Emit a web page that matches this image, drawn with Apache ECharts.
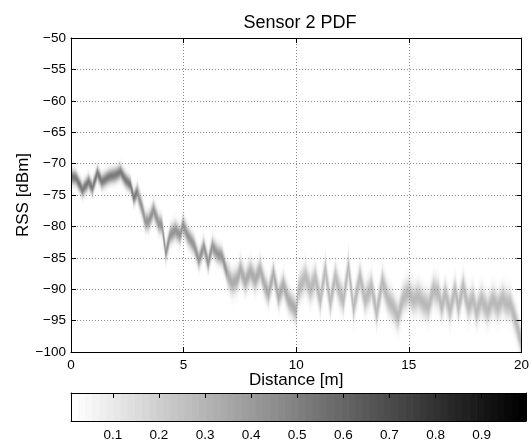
<!DOCTYPE html>
<html><head><meta charset="utf-8">
<script src="https://cdn.jsdelivr.net/npm/echarts@6/dist/echarts.min.js"></script>
<style>html,body{margin:0;padding:0;background:#fff}#c{width:532px;height:446px}</style>
</head><body><div id="c"></div>
<script>
// Distance [m] of the vertices of the PDF ridge
const distance = [0, 0.22, 0.51, 0.78, 0.95, 1.17, 1.37, 1.68, 1.98, 2.2, 2.42, 2.64, 2.79, 2.94, 3.16, 3.3, 3.45, 3.67, 3.89, 4.04, 4.21, 4.4, 4.63, 4.85, 4.97,
  5.17, 5.46, 5.68, 5.9, 6.09, 6.27, 6.49, 6.71, 6.93, 7.15, 7.37, 7.52, 7.74, 7.96, 8.18, 8.4, 8.62, 8.77, 8.99, 9.21, 9.43, 9.65, 9.87, 10.0,
  10.1, 10.4, 10.63, 10.85, 11.07, 11.29, 11.51, 11.73, 11.95, 12.1, 12.32, 12.54, 12.83, 13.05, 13.35, 13.57, 13.82, 14.08, 14.3, 14.52, 14.74, 14.98,
  15.2, 15.43, 15.65, 15.87, 16.09, 16.31, 16.46, 16.61, 16.83, 17.05, 17.2, 17.41, 17.63, 17.85, 18.0, 18.22, 18.5, 18.73, 18.95, 19.17, 19.3, 19.52, 19.74, 20.0];
// Most likely RSS [dBm] at each vertex
const rssMean = [-72.1, -72.3, -74.2, -72.9, -73.9, -71.5, -72.9, -72.1, -71.8, -71.3, -72.6, -73.4, -75.5, -74.5, -77.1, -79.2, -79.2, -77.4, -79.5, -79.8, -84.3, -81.4, -80.6, -81.4, -79.7,
  -81.4, -83.0, -85.4, -83.2, -85.9, -83.2, -84.3, -84.8, -87.5, -89.1, -88.5, -86.9, -88.8, -87.2, -88.5, -86.9, -89.6, -90.7, -87.5, -91.2, -89.3, -91.7, -92.8, -93.5,
  -90.1, -88.0, -90.0, -88.3, -91.7, -86.9, -92.2, -88.0, -90.7, -91.7, -86.4, -93.0, -88.0, -91.7, -89.6, -93.8, -88.8, -91.7, -92.8, -94.4, -91.5, -90.5,
  -91.7, -91.2, -92.2, -92.8, -90.1, -90.7, -92.8, -90.7, -93.4, -90.1, -92.8, -89.6, -92.8, -91.5, -93.6, -91.7, -93.4, -91.7, -92.8, -91.5, -92.2, -92.5, -95.0, -98.6];
// Spread (std. dev., dB) of the PDF by distance zone: [from, to, sigma]
const spreadZones = [[0, 3, 0.76], [3, 7, 0.95], [7, 10, 1.22], [10, 20.01, 1.45]];
const xTicksInterval = 5;
const yTicksInterval = 5;
const colorbarTicks = [0.1, 0.2, 0.3, 0.4, 0.5, 0.6, 0.7, 0.8, 0.9];
const colorbarRange = [0.0092, 0.9963];
const colorLevels = 64;

const FONT = 'Liberation Sans, Arial, Helvetica, sans-serif';
function sigmaAt(d) {
  for (const z of spreadZones) if (d >= z[0] && d < z[1]) return z[2];
  return spreadZones[spreadZones.length - 1][2];
}
const segData = [];
for (let i = 0; i < distance.length - 1; i++) {
  segData.push([distance[i], rssMean[i], distance[i + 1], rssMean[i + 1], sigmaAt((distance[i] + distance[i + 1]) / 2)]);
}
const cbData = [];
for (let k = 0; k < colorLevels; k++) {
  const w = (colorbarRange[1] - colorbarRange[0]) / colorLevels;
  cbData.push([colorbarRange[0] + k * w, colorbarRange[0] + (k + 1) * w, 1 - k / (colorLevels - 1)]);
}

function bandItem(params, api) {
  const p0 = api.coord([api.value(0), api.value(1)]);
  const p1 = api.coord([api.value(2), api.value(3)]);
  const s = api.value(4);
  const pxPerDb = api.size([0, 1])[1];
  const H = 4 * s * pxPerDb;
  const dx = p1[0] - p0[0], dy = p1[1] - p0[1];
  const len = Math.hypot(dx, dy);
  const ux = dx / len, uy = dy / len;
  const nx = -uy, ny = ux;
  const mx = (p0[0] + p1[0]) / 2, my = (p0[1] + p1[1]) / 2;
  const t = H * ux;
  const ext = 0.7, slope = dy / dx;
  const stops = [];
  const N = 48;
  for (let k = 0; k <= N; k++) {
    const z = -4 + 8 * k / N;
    let v = Math.exp(-z * z / 2) / (s * Math.sqrt(2 * Math.PI));
    v = Math.min(1, v);
    const g = Math.round(255 * (1 - v));
    stops.push({ offset: k / N, color: 'rgb(' + g + ',' + g + ',' + g + ')' });
  }
  return {
    type: 'polygon',
    shape: { points: [[p0[0], p0[1] - H], [p1[0] + ext, p1[1] + slope * ext - H], [p1[0] + ext, p1[1] + slope * ext + H], [p0[0], p0[1] + H]] },
    style: { fill: new echarts.graphic.LinearGradient(mx - nx * t, my - ny * t, mx + nx * t, my + ny * t, stops, true) }
  };
}
function cbItem(params, api) {
  const a = api.coord([api.value(0), 1]);
  const b = api.coord([api.value(1), 0]);
  const g = Math.round(255 * api.value(2));
  return { type: 'rect', shape: { x: a[0], y: a[1], width: b[0] - a[0] + 0.6, height: b[1] - a[1] }, style: { fill: 'rgb(' + g + ',' + g + ',' + g + ')' } };
}
const minus = v => String(v).replace('-', '\u2212');
const black = { color: '#000', width: 1 };
const grid = { lineStyle: { type: [1, 2], color: '#8a8a8a', width: 1 } };

const chart = echarts.init(document.getElementById('c'));
chart.setOption({
  animation: false,
  textStyle: { fontFamily: FONT },
  title: { text: 'Sensor 2 PDF', left: 295, top: 9, textAlign: 'center',
    textStyle: { fontFamily: FONT, fontSize: 18, fontWeight: 'normal', color: '#000' } },
  grid: [
    { left: 71, top: 38, width: 454, height: 314 },
    { left: 71, top: 393, width: 455, height: 28 }
  ],
  xAxis: [
    { gridIndex: 0, type: 'value', min: 0, max: 20, interval: xTicksInterval, position: 'bottom', z: 10,
      axisLine: { show: true, onZero: false, lineStyle: black }, axisTick: { inside: true, length: 5, lineStyle: black },
      axisLabel: { fontSize: 13.5, color: '#000', margin: 6, fontFamily: FONT }, splitLine: Object.assign({ show: true }, grid),
      name: 'Distance [m]', nameLocation: 'middle', nameGap: 20, nameMoveOverlap: false,
      nameTextStyle: { fontSize: 17, color: '#000', fontFamily: FONT } },
    { gridIndex: 0, type: 'value', min: 0, max: 20, interval: xTicksInterval, position: 'top', z: 10,
      axisLine: { show: true, onZero: false, lineStyle: black }, axisTick: { inside: true, length: 5, lineStyle: black },
      axisLabel: { show: false }, splitLine: { show: false } },
    { gridIndex: 1, type: 'value', min: colorbarRange[0], max: colorbarRange[1], position: 'bottom', z: 10,
      axisLine: { show: true, onZero: false, lineStyle: black }, axisTick: { show: false },
      axisLabel: { customValues: colorbarTicks, fontSize: 13.5, color: '#000', margin: 7, fontFamily: FONT, formatter: v => v.toFixed(1) },
      splitLine: { show: false } },
    { gridIndex: 1, type: 'value', min: colorbarRange[0], max: colorbarRange[1], position: 'top', z: 10,
      axisLine: { show: true, onZero: false, lineStyle: black }, axisTick: { inside: true, length: 5, customValues: colorbarTicks, lineStyle: black },
      axisLabel: { show: false }, splitLine: { show: false } }
  ],
  yAxis: [
    { gridIndex: 0, type: 'value', min: -100, max: -50, interval: yTicksInterval, position: 'left', z: 10,
      axisLine: { show: true, onZero: false, lineStyle: black }, axisTick: { inside: true, length: 5, lineStyle: black },
      axisLabel: { fontSize: 13.5, color: '#000', margin: 5, fontFamily: FONT, formatter: minus }, splitLine: Object.assign({ show: true }, grid),
      name: 'RSS [dBm]', nameLocation: 'middle', nameGap: 39, nameRotate: 90, nameMoveOverlap: false,
      nameTextStyle: { fontSize: 17, color: '#000', fontFamily: FONT } },
    { gridIndex: 0, type: 'value', min: -100, max: -50, interval: yTicksInterval, position: 'right', z: 10,
      axisLine: { show: true, onZero: false, lineStyle: black }, axisTick: { inside: true, length: 5, lineStyle: black },
      axisLabel: { show: false }, splitLine: { show: false } },
    { gridIndex: 1, type: 'value', min: 0, max: 1, position: 'left', z: 10,
      axisLine: { show: true, onZero: false, lineStyle: black }, axisTick: { show: false }, axisLabel: { show: false }, splitLine: { show: false } },
    { gridIndex: 1, type: 'value', min: 0, max: 1, position: 'right', z: 10,
      axisLine: { show: true, onZero: false, lineStyle: black }, axisTick: { show: false }, axisLabel: { show: false }, splitLine: { show: false } }
  ],
  series: [
    { type: 'custom', xAxisIndex: 0, yAxisIndex: 0, renderItem: bandItem, data: segData, clip: true, silent: true, z: 1,
      encode: { x: [0, 2], y: [1, 3] } },
    { type: 'custom', xAxisIndex: 2, yAxisIndex: 2, renderItem: cbItem, data: cbData, clip: true, silent: true, z: 1,
      encode: { x: [0, 1], y: [2] } }
  ]
});
</script></body></html>
